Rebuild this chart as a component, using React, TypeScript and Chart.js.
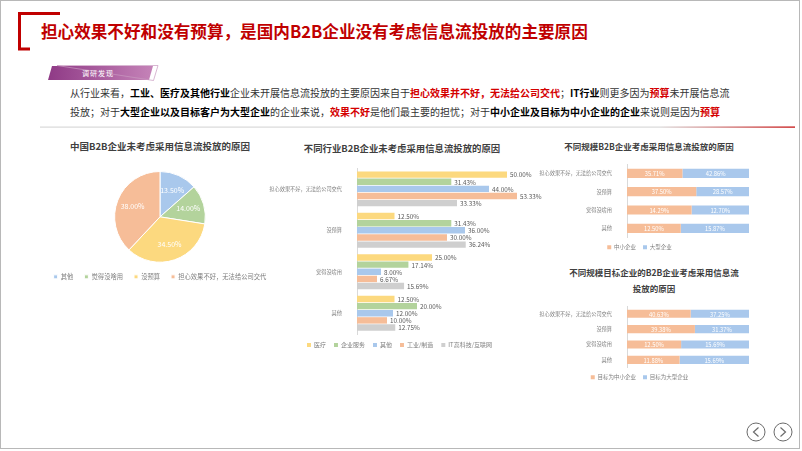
import React, { useEffect, useRef } from 'react';
import { Chart, registerables } from 'chart.js';
Chart.register(...registerables);

const FONT = "'Noto Sans CJK SC', 'Noto Sans', sans-serif";
Chart.defaults.font.family = FONT;

// ---------- data ----------
const pieLabels = ['其他', '觉得没啥用', '没预算', '担心效果不好，无法给公司交代'];
const pieValues = [13.5, 14.0, 34.5, 38.0];

const reasonLabels = ['担心效果不好，无法给公司交代', '没预算', '觉得没啥用', '其他'];
const industryNames = ['医疗', '企业服务', '其他', '工业/制造', 'IT高科技/互联网'];
const medical = [50.0, 12.5, 25.0, 12.5];
const enterpriseService = [31.43, 31.43, 17.14, 20.0];
const otherIndustry = [44.0, 36.0, 8.0, 12.0];
const manufacturing = [53.33, 30.0, 6.67, 10.0];
const itInternet = [33.33, 36.24, 15.69, 12.75];

const sizeNames = ['中小企业', '大型企业'];
const sizeSmall = [35.71, 37.5, 14.29, 12.5];
const sizeLarge = [42.86, 28.57, 12.7, 15.87];

const targetNames = ['目标为中小企业', '目标为大型企业'];
const targetSmall = [40.63, 39.38, 12.5, 11.88];
const targetLarge = [37.25, 31.37, 15.69, 15.69];

// ---------- colours ----------
const C_YELLOW = '#fcd97f';
const C_GREEN = '#b3d39c';
const C_BLUE = '#a9c8ec';
const C_ORANGE = '#f6bd98';
const C_GRAY = '#cfcfcf';

const makeLabels = (kind: string, color: string, size: number) => ({
  id: 'vl_' + kind,
  afterDatasetsDraw(chart: any) {
    const ctx = chart.ctx;
    ctx.save();
    ctx.font = `${size}px ${FONT}`;
    ctx.fillStyle = color;
    ctx.textBaseline = 'middle';
    chart.data.datasets.forEach((ds: any, di: number) => {
      if (!chart.isDatasetVisible(di)) return;
      const meta = chart.getDatasetMeta(di);
      meta.data.forEach((el: any, i: number) => {
        const raw = ds.rawValues ? ds.rawValues[i] : ds.data[i];
        const txt = Number(raw).toFixed(2) + '%';
        if (kind === 'outside') {
          const p = el.getProps(['x', 'y'], true);
          ctx.textAlign = 'left';
          ctx.fillText(txt, p.x + 3, p.y + 0.5);
        } else if (kind === 'center') {
          const p = el.getProps(['x', 'y', 'base'], true);
          ctx.textAlign = 'center';
          ctx.fillText(txt, (p.x + p.base) / 2, p.y + 0.5);
        } else {
          const p = el.getProps(['x', 'y', 'startAngle', 'endAngle', 'outerRadius'], true);
          const a = (p.startAngle + p.endAngle) / 2;
          const r = p.outerRadius * 0.65;
          ctx.textAlign = 'center';
          ctx.fillText(txt, p.x + Math.cos(a) * r, p.y + Math.sin(a) * r);
        }
      });
    });
    ctx.restore();
  },
});

function ChartBox({ left, top, width, height, make }: any) {
  const ref = useRef<HTMLCanvasElement>(null);
  useEffect(() => {
    const chart = new Chart(ref.current as HTMLCanvasElement, make());
    return () => chart.destroy();
  }, []);
  return (
    <canvas
      ref={ref}
      width={width}
      height={height}
      style={{ position: 'absolute', left, top, width, height }}
    />
  );
}

const legendOpts = (size: number, padding: number) => ({
  position: 'bottom' as const,
  labels: { boxWidth: 4, boxHeight: 4, font: { size }, color: '#7f7f7f', padding },
});

const pieConfig = () => ({
  type: 'pie',
  data: {
    labels: pieLabels,
    datasets: [
      {
        data: pieValues,
        backgroundColor: [C_BLUE, C_GREEN, C_YELLOW, C_ORANGE],
        borderColor: '#ffffff',
        borderWidth: 1,
      },
    ],
  },
  options: {
    responsive: false,
    animation: false,
    devicePixelRatio: 1,
    layout: { padding: { top: 2, bottom: 0 } },
    plugins: { legend: legendOpts(6.3, 11), tooltip: { enabled: false } },
  },
  plugins: [makeLabels('pie', '#ffffff', 7)],
});

const industryConfig = () => ({
  type: 'bar',
  data: {
    labels: reasonLabels,
    datasets: [
      { label: industryNames[0], data: medical, backgroundColor: C_YELLOW },
      { label: industryNames[1], data: enterpriseService, backgroundColor: C_GREEN },
      { label: industryNames[2], data: otherIndustry, backgroundColor: C_BLUE },
      { label: industryNames[3], data: manufacturing, backgroundColor: C_ORANGE },
      { label: industryNames[4], data: itInternet, backgroundColor: C_GRAY },
    ],
  },
  options: {
    indexAxis: 'y',
    responsive: false,
    animation: false,
    devicePixelRatio: 1,
    layout: { padding: { top: 6, right: 15, bottom: 0 } },
    datasets: { bar: { barPercentage: 0.9, categoryPercentage: 0.86 } },
    scales: {
      x: { display: false, min: 0, max: 60 },
      y: {
        grid: { display: false },
        border: { display: true, color: '#d9d9d9' },
        ticks: { font: { size: 5.2 }, color: '#7f7f7f', padding: 7 },
        afterFit(s: any) {
          s.width = 95;
        },
      },
    },
    plugins: { legend: legendOpts(6, 8), tooltip: { enabled: false } },
  },
  plugins: [makeLabels('outside', '#595959', 6.3)],
});

const stackConfig = (names: string[], a: number[], b: number[], pad: any, bp: number) => () => ({
  type: 'bar',
  data: {
    labels: reasonLabels,
    datasets: [
      {
        label: names[0],
        data: a.map((v, i) => (v / (v + b[i])) * 100),
        rawValues: a,
        backgroundColor: C_ORANGE,
      },
      {
        label: names[1],
        data: b.map((v, i) => (v / (a[i] + v)) * 100),
        rawValues: b,
        backgroundColor: C_BLUE,
      },
    ],
  },
  options: {
    indexAxis: 'y',
    responsive: false,
    animation: false,
    devicePixelRatio: 1,
    layout: { padding: pad },
    datasets: { bar: { barPercentage: bp, categoryPercentage: 1 } },
    scales: {
      x: { display: false, min: 0, max: 100, stacked: true },
      y: {
        stacked: true,
        grid: { display: false },
        border: { display: true, color: '#d9d9d9' },
        ticks: { font: { size: 5.2 }, color: '#7f7f7f', padding: 7 },
        afterFit(s: any) {
          s.width = 97;
        },
      },
    },
    plugins: { legend: legendOpts(5.5, 7), tooltip: { enabled: false } },
  },
  plugins: [makeLabels('center', '#ffffff', 5.8)],
});

const B: React.CSSProperties = { fontWeight: 700, color: '#000' };
const R: React.CSSProperties = { fontWeight: 700, color: '#d40000' };

export default function App() {
  return (
    <div
      style={{
        position: 'absolute',
        left: 0,
        top: 0,
        width: 802,
        height: 451,
        background: '#ffffff',
        overflow: 'hidden',
        fontFamily: FONT,
      }}
    >
      {/* frame */}
      <div
        style={{
          position: 'absolute',
          left: 0,
          top: 0,
          width: 798,
          height: 447,
          border: '1px solid #b8b8b8',
        }}
      />
      {/* bracket, tag, separator, nav */}
      <svg width={802} height={451} style={{ position: 'absolute', left: 0, top: 0 }}>
        <path d="M60 13.5 H19.5 V49 H30" stroke="#c00000" strokeWidth={3} fill="none" />
        <defs>
          <linearGradient id="tagG" x1="0" x2="1" y1="0" y2="0">
            <stop offset="0" stopColor="#8f3a86" />
            <stop offset="1" stopColor="#c583b8" />
          </linearGradient>
          <linearGradient id="sepG" x1="0" x2="1" y1="0" y2="0">
            <stop offset="0" stopColor="#d9d9d9" />
            <stop offset="0.82" stopColor="#d9d9d9" />
            <stop offset="1" stopColor="#c00000" />
          </linearGradient>
        </defs>
        <polygon points="52,66 153,66 149,80 48,80" fill="url(#tagG)" />
        <polygon points="57,65.5 158,65.5 153.5,80.5" fill="none" stroke="#c99ac0" strokeWidth={0.7} />
        <rect x={40} y={126.5} width={755} height={1.2} fill="url(#sepG)" />
        <circle cx={756} cy={432} r={9} stroke="#6b6b6b" strokeWidth={1} fill="#fff" />
        <path d="M758.5 427.5 L753.5 432 L758.5 436.5" stroke="#6b6b6b" strokeWidth={1.2} fill="none" />
        <circle cx={783} cy={432} r={9} stroke="#6b6b6b" strokeWidth={1} fill="#fff" />
        <path d="M780.5 427.5 L785.5 432 L780.5 436.5" stroke="#6b6b6b" strokeWidth={1.2} fill="none" />
      </svg>
      <div
        style={{
          position: 'absolute',
          left: 82,
          top: 67,
          fontSize: 7,
          color: '#fff',
          lineHeight: '12px',
          letterSpacing: 1,
        }}
      >
        调研发现
      </div>
      {/* main title */}
      <div
        style={{
          position: 'absolute',
          left: 41,
          top: 19,
          fontSize: 16.6,
          fontWeight: 700,
          color: '#c00000',
          whiteSpace: 'nowrap',
          lineHeight: '24px',
        }}
      >
        担心效果不好和没有预算，是国内B2B企业没有考虑信息流投放的主要原因
      </div>
      {/* paragraph */}
      <div
        style={{
          position: 'absolute',
          left: 70,
          top: 85,
          fontSize: 10,
          color: '#333',
          whiteSpace: 'nowrap',
          lineHeight: '16px',
        }}
      >
        从行业来看，<span style={B}>工业、医疗及其他行业</span>企业未开展信息流投放的主要原因来自于
        <span style={R}>担心效果并不好，无法给公司交代</span>；<span style={B}>IT行业</span>则更多因为
        <span style={R}>预算</span>未开展信息流
      </div>
      <div
        style={{
          position: 'absolute',
          left: 70,
          top: 104,
          fontSize: 10,
          color: '#333',
          whiteSpace: 'nowrap',
          lineHeight: '16px',
        }}
      >
        投放；对于<span style={B}>大型企业以及目标客户为大型企业</span>的企业来说，<span style={R}>效果不好</span>
        是他们最主要的担忧；对于<span style={B}>中小企业及目标为中小企业的企业</span>来说则是因为
        <span style={R}>预算</span>
      </div>

      {/* chart titles */}
      <div
        style={{
          position: 'absolute',
          left: 40,
          width: 240,
          textAlign: 'center',
          top: 139,
          fontSize: 9.5,
          fontWeight: 700,
          color: '#404040',
          lineHeight: '14px',
        }}
      >
        中国B2B企业未考虑采用信息流投放的原因
      </div>
      <div
        style={{
          position: 'absolute',
          left: 282,
          width: 240,
          textAlign: 'center',
          top: 141,
          fontSize: 9.4,
          fontWeight: 700,
          color: '#404040',
          lineHeight: '14px',
        }}
      >
        不同行业B2B企业未考虑采用信息流投放的原因
      </div>
      <div
        style={{
          position: 'absolute',
          left: 549,
          width: 200,
          textAlign: 'center',
          top: 139,
          fontSize: 8.5,
          fontWeight: 700,
          color: '#404040',
          lineHeight: '14px',
        }}
      >
        不同规模B2B企业考虑采用信息流投放的原因
      </div>
      <div
        style={{
          position: 'absolute',
          left: 554,
          width: 200,
          textAlign: 'center',
          top: 264,
          fontSize: 8.5,
          fontWeight: 700,
          color: '#404040',
          lineHeight: '16px',
        }}
      >
        不同规模目标企业的B2B企业考虑采用信息流
        <br />
        投放的原因
      </div>

      <ChartBox left={40} top={169} width={240} height={121} make={pieConfig} />
      <ChartBox left={262} top={158} width={290} height={200} make={industryConfig} />
      <ChartBox
        left={530}
        top={154}
        width={230}
        height={106}
        make={stackConfig(sizeNames, sizeSmall, sizeLarge, { top: 5, right: 11 }, 0.5)}
      />
      <ChartBox
        left={530}
        top={296}
        width={230}
        height={94}
        make={stackConfig(targetNames, targetSmall, targetLarge, { top: 4.5, right: 11 }, 0.53)}
      />
    </div>
  );
}
